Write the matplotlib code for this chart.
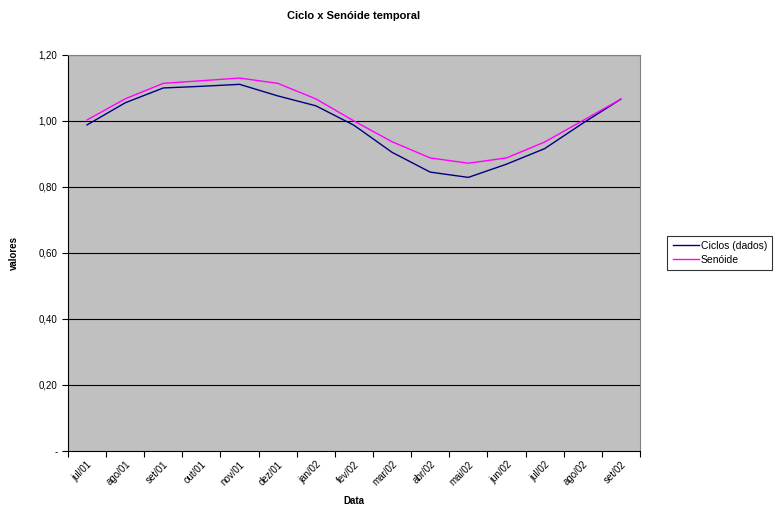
import matplotlib
matplotlib.use("Agg")
import matplotlib.pyplot as plt
import numpy as np

plt.rcParams['font.family'] = ['Liberation Sans', 'DejaVu Sans']

meses = ['jul/01', 'ago/01', 'set/01', 'out/01', 'nov/01', 'dez/01', 'jan/02',
         'fev/02', 'mar/02', 'abr/02', 'mai/02', 'jun/02', 'jul/02', 'ago/02', 'set/02']
ciclos = [0.988, 1.055, 1.100, 1.105, 1.111, 1.076, 1.046, 0.987, 0.905,
          0.845, 0.829, 0.869, 0.916, 0.993, 1.066]
senoide = [1.003, 1.067, 1.114, 1.122, 1.130, 1.114, 1.067, 1.000, 0.937,
           0.888, 0.872, 0.888, 0.936, 1.001, 1.066]
yticks = [0, 0.2, 0.4, 0.6, 0.8, 1.0, 1.2]
ylabels = ['-', '0,20', '0,40', '0,60', '0,80', '1,00', '1,20']

fig = plt.figure(figsize=(7.76, 5.17), dpi=100)
ax = fig.add_axes([0.0876, 0.1277, 0.737, 0.766])
ax.set_facecolor('#C0C0C0')

x = np.arange(len(meses))
ax.plot(x, ciclos, color='#000080', lw=1.0, label='Ciclos (dados)')
ax.plot(x, senoide, color='#FF00FF', lw=1.0, label='Senóide')

ax.set_xlim(-0.5, len(meses) - 0.5)
ax.set_ylim(0, 1.2)
ax.set_yticks(yticks)
ax.set_yticklabels(ylabels, fontsize=7)
for yv in yticks[1:]:
    ax.axhline(yv, color='black', lw=0.8, zorder=0.5)

# categorias entre as marcas (estilo Excel)
ax.set_xticks(x)
ax.set_xticklabels(meses, rotation=45, ha='right', rotation_mode='anchor', fontsize=7)
ax.tick_params(axis='x', length=0, pad=6)
ax.set_xticks(np.arange(len(meses) + 1) - 0.5, minor=True)
ax.tick_params(axis='x', which='minor', length=4, width=0.8)
ax.tick_params(axis='y', length=4, width=0.8)

for s in ['top', 'right']:
    ax.spines[s].set_color('#808080')
for s in ['left', 'bottom']:
    ax.spines[s].set_color('black')

ax.set_title('Ciclo x Senóide temporal', fontsize=8, fontweight='bold', pad=26)
ax.set_xlabel('Data', fontsize=7, fontweight='bold', labelpad=6)
ax.set_ylabel('valores', fontsize=7, fontweight='bold', labelpad=14)

leg = ax.legend(loc='center left', bbox_to_anchor=(1.048, 0.5), fontsize=7.5,
                frameon=True, fancybox=False, edgecolor='black', borderpad=0.5,
                borderaxespad=0, handlelength=2.5, handletextpad=0.2, labelspacing=0.35)
leg.get_frame().set_linewidth(0.8)

fig.savefig('out.png', dpi=100)
